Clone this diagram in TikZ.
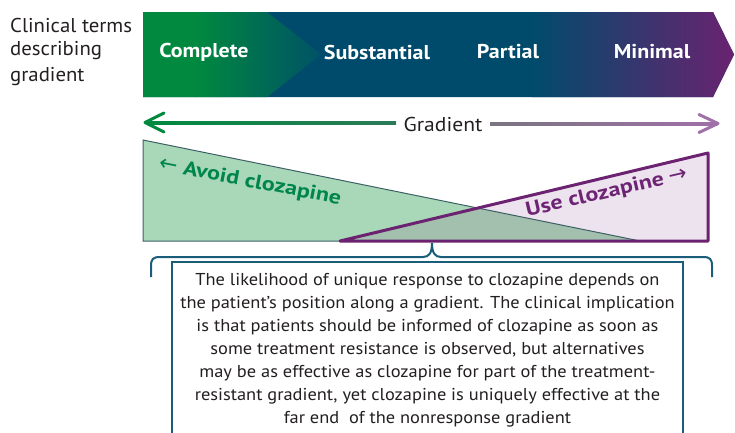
\documentclass[tikz,border=0pt]{standalone}
\usepackage{fontspec}
\setmainfont{PT Sans}
\newfontfamily\symf{DejaVu Sans}
\newfontfamily\bodyf[FakeStretch=1.07]{PT Sans}
\newfontfamily\bannerf[FakeStretch=1.1]{PT Sans}
\newfontfamily\labelf[FakeStretch=1.04]{PT Sans}
\newfontfamily\gradf[FakeStretch=1.08]{PT Sans}
\newfontfamily\diagf[FakeStretch=1.2]{PT Sans}
\usetikzlibrary{calc}
\definecolor{cgreen}{HTML}{00893F}
\definecolor{cteal}{HTML}{004B6B}
\definecolor{cpurple}{HTML}{6B2270}
\definecolor{ctxt}{HTML}{231F20}
\definecolor{lgreen}{HTML}{A9D8B8}
\definecolor{lpurple}{HTML}{EDE3EE}
\definecolor{overlapc}{HTML}{A3BFAD}
\definecolor{bracec}{HTML}{1A5D7A}
\definecolor{avoidc}{HTML}{00864A}
\definecolor{usec}{HTML}{6E2474}
\definecolor{triedge}{HTML}{3D6066}
\definecolor{gmid}{HTML}{2C7A57}
\definecolor{pmid}{HTML}{7A7580}
\definecolor{pend}{HTML}{A070A8}
\tikzset{
  bannertxt/.style={text=white, font=\bannerf\bfseries\fontsize{20}{22}\selectfont, inner sep=0pt},
  lefttxt/.style={text=ctxt, font=\labelf\fontsize{20}{22}\selectfont, anchor=west, inner sep=0pt},
  tip/.style={line width=3pt, line cap=round, line join=round},
  diagtxt/.style={font=\diagf\bfseries\fontsize{20}{22}\selectfont, inner sep=0pt},
  bodytxt/.style={text=ctxt, font=\bodyf\fontsize{17.2}{23}\selectfont, align=center, inner sep=0pt}
}
\begin{document}
\begin{tikzpicture}[x=1pt,y=-1pt]
\useasboundingbox (0,0) rectangle (735,432);
% banner
\begin{scope}
\clip (143,12) -- (713,12) -- (734,54.5) -- (713,97) -- (143,97) -- cycle;
\fill[cteal] (140,10) rectangle (736,99);
\shade[left color=cteal, right color=cpurple] (532,10) rectangle (736,99);
\end{scope}
\begin{scope}
\clip (143,12) -- (267,12) -- (321,54.5) -- (267,97) -- (143,97) -- cycle;
\fill[cgreen] (140,10) rectangle (196,99);
\shade[left color=cgreen, right color=cteal!92!cgreen] (195,10) rectangle (326,99);
\end{scope}
\node[bannertxt] (complete) at (204,52) {Complete};
\node[bannertxt] (substantial) at (377,52) {Substantial};
\node[bannertxt] (partial) at (508,52) {Partial};
\node[bannertxt] (minimal) at (652,52) {Minimal};
% left label
\node[lefttxt] (l1) at (10,25.5) {Clinical terms};
\node[lefttxt] (l2) at (10,51) {describing};
\node[lefttxt] (l3) at (10,76.5) {gradient};
% gradient arrow
\node[text=ctxt, font=\gradf\fontsize{20}{22}\selectfont, inner sep=0pt] (grad) at (443,124) {Gradient};
\coordinate (gl) at (145,122.5);
\coordinate (gr) at (718,123.5);
\shade[left color=cgreen, right color=gmid] (146,121) rectangle (396,124);
\shade[left color=pmid, right color=pend] (490,122) rectangle (717,125);
\draw[tip, cgreen] (164,113) -- (gl) -- (164,132);
\draw[tip, pend] (699,114.5) -- (gr) -- (699,132.5);
% triangles
\coordinate (ga) at (143,140);
\coordinate (gb) at (143,241);
\coordinate (gc) at (640,241);
\coordinate (pa) at (340,241);
\coordinate (pb) at (708,153);
\coordinate (pc) at (708,241);
\fill[lpurple] (pa) -- (pb) -- (pc) -- cycle;
\fill[lgreen] (ga) -- (gb) -- (gc) -- cycle;
\fill[overlapc] (pa) -- (intersection of ga--gc and pa--pb) -- (gc) -- cycle;
\draw[triedge, line width=1pt] (ga) -- (gb) -- (gc) -- cycle;
\draw[cpurple, line width=3pt, line join=round] (pa) -- (pb) -- (pc) -- cycle;
\node[diagtxt, text=avoidc, rotate=-11] (avoid) at (250,182) {{\symf\mdseries\fontsize{22}{22}\selectfont ←} Avoid clozapine};
\node[diagtxt, text=usec, rotate=13] (use) at (607,193) {Use clozapine {\symf\mdseries\fontsize{22}{22}\selectfont →}};
% brace
\draw[bracec, line width=2pt] (151,277) -- (151,266) .. controls (151,259) and (153,257) .. (160,257) -- (423,257) .. controls (429,257) and (432,253) .. (432,243) .. controls (432,253) and (435,257) .. (441,257) -- (703,257) .. controls (710,257) and (712,259) .. (712,266) -- (712,277);
% box
\draw[bracec, line width=2pt, fill=white] (172,262) rectangle (683,440);
\node[bodytxt] (body) at (427.5,350) {The likelihood of unique response to clozapine depends on\\
the patient’s position along a gradient. The clinical implication\\
is that patients should be informed of clozapine as soon as\\
some treatment resistance is observed, but alternatives\\
may be as effective as clozapine for part of the treatment-\\
resistant gradient, yet clozapine is uniquely effective at the\\
far end\ \ of the nonresponse gradient};
\end{tikzpicture}
\end{document}
